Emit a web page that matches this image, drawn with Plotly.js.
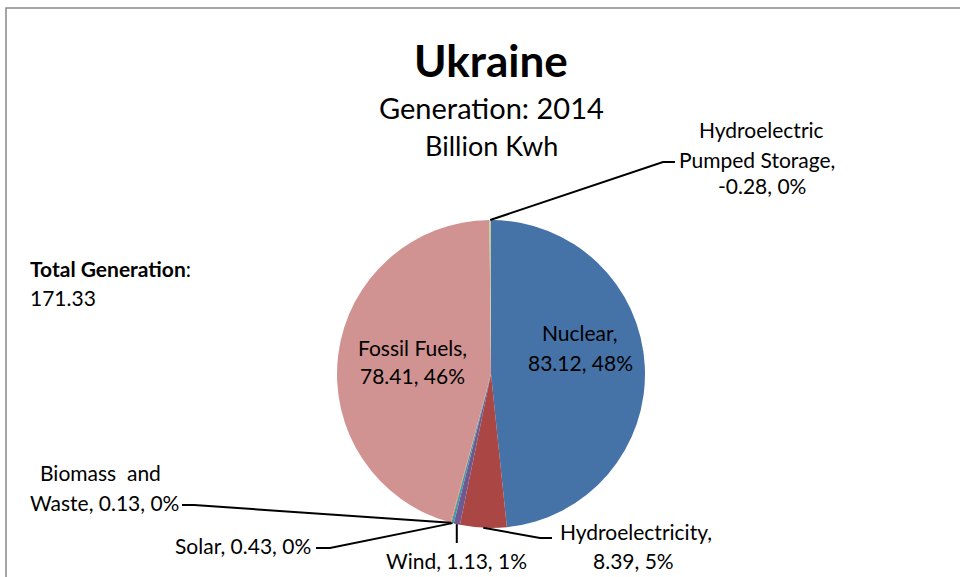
<!DOCTYPE html>
<html>
<head>
<meta charset="utf-8">
<script src="https://cdn.plot.ly/plotly-3.0.1.min.js"></script>
<style>html,body{margin:0;padding:0;background:#fff;}#chart{width:960px;height:577px;}</style>
</head>
<body>
<div id="chart"></div>
<script>
// ---- data ----
const categories = ["Nuclear", "Hydroelectricity", "Wind", "Solar", "Biomass and Waste", "Fossil Fuels", "Hydroelectric Pumped Storage"];
const values = [83.12, 8.39, 1.13, 0.43, 0.13, 78.41, -0.28];
const percentLabels = ["48%", "5%", "1%", "0%", "0%", "46%", "0%"];
const totalGeneration = "171.33";
const colors = ["#4572A7", "#AA4643", "#71588F", "#4198AF", "#DB843D", "#D19392", "#B9CD96"];

const W = 960, H = 577;
const FONT = "Lato, 'Open Sans', sans-serif";
const cx = 491, cy = 374, R = 154;
const px = x => x / W, py = y => 1 - y / H;

// slice mid-angles from data (clockwise from 12 o'clock)
const absVals = values.map(v => Math.abs(v));
const tot = absVals.reduce((a, b) => a + b, 0);
let cum = 0;
const anchors = absVals.map(v => {
  const mid = (cum + v / 2) / tot * 2 * Math.PI;
  cum += v;
  return [cx + R * Math.sin(mid), cy - R * Math.cos(mid)];
});

const annotations = [];
function txt(s, x, y, size, opts = {}) {
  annotations.push(Object.assign({
    text: s, x: px(x), y: py(y), xref: "paper", yref: "paper",
    xanchor: opts.anchor || "center", yanchor: "middle", showarrow: false,
    font: {family: FONT, size: size, color: "#000"}
  }, opts.extra || {}));
}
const lbl = i => values[i].toFixed(2) + ", " + percentLabels[i];
const LS = 21;

txt("<b>Ukraine</b>", 491, 60, 44);
txt("Generation: 2014", 491, 108, 29);
txt("Billion Kwh", 491, 145, 27);
txt("<b>Total Generation</b>:", 28, 268, 21, {anchor: "left"});
txt(totalGeneration, 28, 297, 21, {anchor: "left"});

// inside labels
txt(categories[0] + ",", 580, 332, LS);
txt(lbl(0), 580, 362, LS);
txt("Fossil Fuels,", 412, 347, LS);
txt(lbl(5), 412, 375, LS);
// outside labels
txt("Hydroelectric", 761, 129, LS);
txt("Pumped Storage,", 757, 159, LS);
txt(lbl(6), 762, 186, LS);
txt("Hydroelectricity,", 636, 531, LS);
txt(lbl(1), 633, 560, LS);
txt(categories[2] + ", " + lbl(2), 456, 560, LS);
txt(categories[3] + ", " + lbl(3), 313, 545, LS, {anchor: "right"});
txt("Biomass&nbsp;&nbsp;and", 100, 472, LS);
txt("Waste, " + lbl(4), 181, 502, LS, {anchor: "right"});

const line = {color: "#000", width: 2};
function path(pts) {
  return {type: "path", xref: "paper", yref: "paper", line: line,
    path: pts.map((p, i) => (i ? "L" : "M") + px(p[0]) + "," + py(p[1])).join(" ")};
}
const shapes = [
  {type: "rect", xref: "paper", yref: "paper", x0: px(6), x1: 1.02, y0: -0.02, y1: py(8),
   line: {color: "#888", width: 1.5}, fillcolor: "rgba(0,0,0,0)"},
  path([anchors[6], [663, 162], [675, 162]]),
  path([anchors[1], [540, 538], [552, 538]]),
  path([anchors[2], [anchors[2][0], 543]]),
  path([anchors[3], [330, 548], [316, 548]]),
  path([anchors[4], [194, 505], [182, 505]])
];

const trace = {
  type: "pie",
  labels: categories,
  values: absVals,
  sort: false,
  direction: "clockwise",
  rotation: 0,
  textinfo: "none",
  hoverinfo: "label+value",
  marker: {colors: colors, line: {width: 0}},
  domain: {x: [px(cx - R), px(cx + R)], y: [py(cy + R), py(cy - R)]},
  showlegend: false
};

Plotly.newPlot("chart", [trace], {
  width: W, height: H,
  margin: {l: 0, r: 0, t: 0, b: 0},
  paper_bgcolor: "#fff",
  showlegend: false,
  annotations: annotations,
  shapes: shapes
}, {displayModeBar: false, staticPlot: true});
</script>
</body>
</html>
